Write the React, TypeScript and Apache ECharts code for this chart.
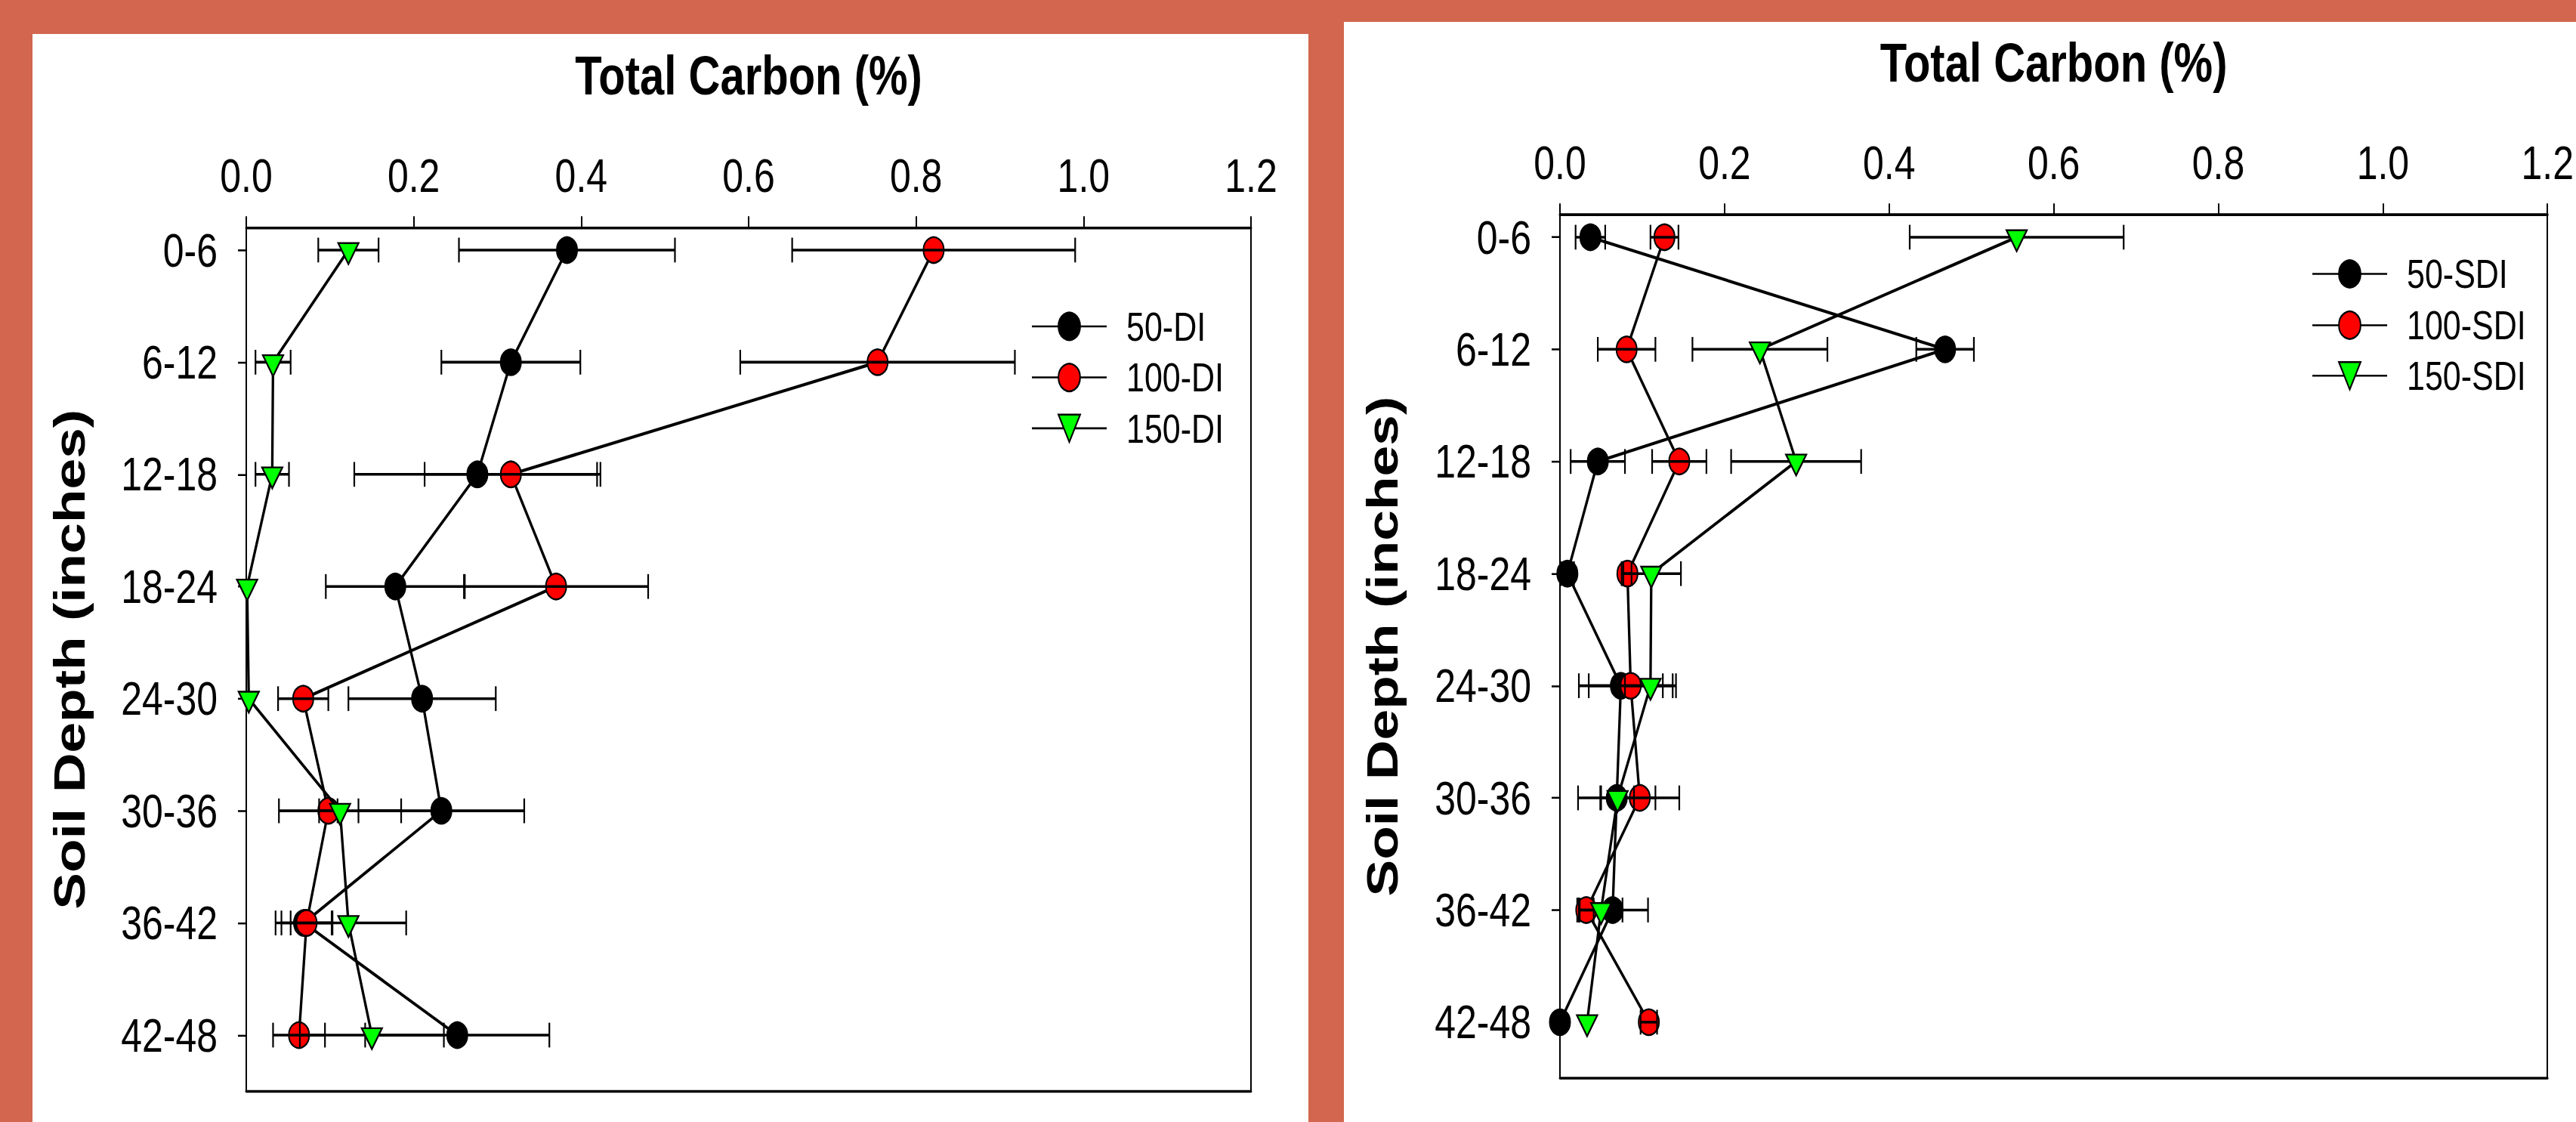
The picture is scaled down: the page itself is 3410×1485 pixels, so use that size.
import React, { useEffect, useRef } from "react";
import * as echarts from "echarts";

// ---------- data ----------
const depthLabels = ["0-6", "6-12", "12-18", "18-24", "24-30", "30-36", "36-42", "42-48"];
const xTickMin = 0;
const xTickMax = 1.2;
const xTickStep = 0.2;

// Left panel (DI)
const di50 = [0.383, 0.316, 0.276, 0.178, 0.21, 0.233, 0.069, 0.252];
const di50Err = [0.129, 0.083, 0.147, 0.083, 0.088, 0.099, 0.034, 0.11];
const di100 = [0.821, 0.754, 0.316, 0.37, 0.068, 0.098, 0.072, 0.063];
const di100Err = [0.169, 0.164, 0.103, 0.11, 0.03, 0.011, 0.03, 0.031];
const di150 = [0.122, 0.032, 0.031, 0.001, 0.003, 0.112, 0.122, 0.15];
const di150Err = [0.036, 0.021, 0.02, 0, 0, 0.073, 0.069, 0.086];

// Right panel (SDI)
const sdi50 = [0.037, 0.468, 0.046, 0.009, 0.074, 0.069, 0.064, 0.0];
const sdi50Err = [0.018, 0.035, 0.033, 0.008, 0.051, 0.047, 0.043, 0];
const sdi100 = [0.127, 0.081, 0.145, 0.082, 0.086, 0.097, 0.032, 0.108];
const sdi100Err = [0.017, 0.035, 0.033, 0.005, 0.051, 0.048, 0.009, 0.01];
const sdi150 = [0.555, 0.243, 0.287, 0.111, 0.11, 0.07, 0.05, 0.033];
const sdi150Err = [0.13, 0.082, 0.079, 0.036, 0.031, 0.02, 0.026, 0];

const leftNames = ["50-DI", "100-DI", "150-DI"];
const rightNames = ["50-SDI", "100-SDI", "150-SDI"];

// ---------- style ----------
const STRETCH = 1.26;
const W = 3410;
const H = 1485 / STRETCH;
const ORANGE = "#D2664E";
const FONT = "'Liberation Sans', Arial, Helvetica, sans-serif";
const Y_MIN = -0.2;
const Y_MAX = 7.5;

function errorSeries(name: string, vals: number[], errs: number[], axisIdx: number, z: number) {
  const data = vals
    .map((v, i) => [v - errs[i], v + errs[i], i, errs[i]])
    .filter((d) => d[3] > 0);
  return {
    name,
    type: "custom",
    xAxisIndex: axisIdx,
    yAxisIndex: axisIdx,
    z,
    silent: true,
    clip: false,
    encode: { x: [0, 1], y: 2 },
    data,
    renderItem: (params: any, api: any) => {
      const y = api.value(2);
      const p1 = api.coord([api.value(0), y]);
      const p2 = api.coord([api.value(1), y]);
      const h = 13;
      return {
        type: "group",
        children: [
          { type: "line", shape: { x1: p1[0], y1: p1[1], x2: p2[0], y2: p2[1] }, style: { stroke: "#000", lineWidth: 2.8 } },
          { type: "line", shape: { x1: p1[0], y1: p1[1] - h, x2: p1[0], y2: p1[1] + h }, style: { stroke: "#000", lineWidth: 2.2 } },
          { type: "line", shape: { x1: p2[0], y1: p2[1] - h, x2: p2[0], y2: p2[1] + h }, style: { stroke: "#000", lineWidth: 2.2 } },
        ],
      };
    },
  };
}

function lineSeries(name: string, vals: number[], axisIdx: number, kind: "circle" | "triangle", color: string, z: number) {
  const tri = kind === "triangle";
  return {
    name,
    type: "line",
    xAxisIndex: axisIdx,
    yAxisIndex: axisIdx,
    z,
    clip: false,
    data: vals.map((v, i) => [v, i]),
    symbol: tri ? "triangle" : "circle",
    symbolSize: tri ? [27, 22] : 27,
    symbolRotate: tri ? 180 : 0,
    symbolOffset: tri ? [0, 3.7] : [0, 0],
    showAllSymbol: true,
    itemStyle: { color, borderColor: "#000", borderWidth: 2 },
    lineStyle: { color: "#000", width: 3.3 },
    emphasis: { disabled: true },
  };
}

function topXAxis(gridIndex: number) {
  return {
    type: "value",
    gridIndex,
    position: "top",
    min: xTickMin,
    max: xTickMax,
    interval: xTickStep,
    name: "Total Carbon (%)",
    nameLocation: "middle",
    nameGap: 131,
    nameTextStyle: { fontSize: 58, fontWeight: "bold", color: "#000", fontFamily: FONT },
    axisLine: { show: true, onZero: false, lineStyle: { color: "#000", width: 2.8 } },
    axisTick: { show: true, inside: false, length: 12, lineStyle: { color: "#000", width: 2 } },
    axisLabel: { show: true, margin: 30, fontSize: 50, color: "#000", fontFamily: FONT, formatter: (v: number) => v.toFixed(1) },
    splitLine: { show: false },
  };
}

function bottomXAxis(gridIndex: number) {
  return {
    type: "value",
    gridIndex,
    position: "bottom",
    min: xTickMin,
    max: xTickMax,
    interval: xTickStep,
    axisLine: { show: true, onZero: false, lineStyle: { color: "#000", width: 2.8 } },
    axisTick: { show: false },
    axisLabel: { show: false },
    splitLine: { show: false },
  };
}

const catIdx = depthLabels.map((_, i) => i);

function leftYAxis(gridIndex: number, nameGap: number) {
  return {
    type: "value",
    gridIndex,
    position: "left",
    inverse: true,
    min: Y_MIN,
    max: Y_MAX,
    name: "Soil Depth (inches)",
    nameLocation: "middle",
    nameGap,
    nameRotate: 90,
    nameTextStyle: { fontSize: 58, fontWeight: "bold", color: "#000", fontFamily: FONT },
    axisLine: { show: true, onZero: false, lineStyle: { color: "#000", width: 2 } },
    axisTick: { show: true, inside: false, length: 11, customValues: catIdx, lineStyle: { color: "#000", width: 2 } },
    axisLabel: {
      show: true,
      margin: 38,
      fontSize: 50,
      color: "#000",
      fontFamily: FONT,
      customValues: catIdx,
      formatter: (v: number) => depthLabels[Math.round(v)] ?? "",
    },
    splitLine: { show: false },
  };
}

function rightYAxis(gridIndex: number) {
  return {
    type: "value",
    gridIndex,
    position: "right",
    inverse: true,
    min: Y_MIN,
    max: Y_MAX,
    axisLine: { show: true, onZero: false, lineStyle: { color: "#000", width: 2 } },
    axisTick: { show: false },
    axisLabel: { show: false },
    splitLine: { show: false },
  };
}

// one legend per entry so each row sits at its exact place
function legendItem(name: string, left: number, centerY: number) {
  return {
    data: [name],
    orient: "vertical",
    left,
    top: centerY - 20,
    padding: 0,
    itemWidth: 99,
    itemHeight: 36,
    selectedMode: false,
    textStyle: { fontSize: 43, color: "#000", fontFamily: FONT, padding: [0, 0, 0, 21] },
  };
}

export default function App() {
  const ref = useRef<HTMLDivElement>(null);
  useEffect(() => {
    document.body.style.margin = "0";
    const chart = echarts.init(ref.current!, null, { renderer: "svg" });
    const leftLegendY = [341.3, 395, 448.4];
    const rightLegendY = [286.2, 340.1, 393.2];
    const option: any = {
      animation: false,
      backgroundColor: "transparent",
      textStyle: { fontFamily: FONT },
      graphic: {
        elements: [
          { type: "rect", z: -10, silent: true, shape: { x: 43, y: 45 / STRETCH, width: 1689, height: 1300 }, style: { fill: "#fff" } },
          { type: "rect", z: -10, silent: true, shape: { x: 1779, y: 29 / STRETCH, width: 1700, height: 1300 }, style: { fill: "#fff" } },
        ],
      },
      grid: [
        { left: 326, width: 1330, top: 239.1, height: 907.1 },
        { left: 2065, width: 1325, top: 225.6, height: 907 },
      ],
      xAxis: [topXAxis(0), bottomXAxis(0), topXAxis(1), bottomXAxis(1)],
      yAxis: [leftYAxis(0, 205), rightYAxis(0), leftYAxis(1, 206), rightYAxis(1)],
      legend: [
        ...leftNames.map((n, i) => legendItem(n, 1365, leftLegendY[i])),
        ...rightNames.map((n, i) => legendItem(n, 3060, rightLegendY[i])),
      ],
      series: [
        lineSeries(leftNames[0], di50, 0, "circle", "#000000", 3),
        errorSeries("e1", di50, di50Err, 0, 4),
        lineSeries(leftNames[1], di100, 0, "circle", "#FF0000", 5),
        errorSeries("e2", di100, di100Err, 0, 6),
        errorSeries("e3", di150, di150Err, 0, 7),
        lineSeries(leftNames[2], di150, 0, "triangle", "#00FF00", 8),

        lineSeries(rightNames[0], sdi50, 2, "circle", "#000000", 3),
        errorSeries("e4", sdi50, sdi50Err, 2, 4),
        lineSeries(rightNames[1], sdi100, 2, "circle", "#FF0000", 5),
        errorSeries("e5", sdi100, sdi100Err, 2, 6),
        errorSeries("e6", sdi150, sdi150Err, 2, 7),
        lineSeries(rightNames[2], sdi150, 2, "triangle", "#00FF00", 8),
      ],
    };
    chart.setOption(option);
    return () => chart.dispose();
  }, []);
  return (
    <div style={{ position: "fixed", left: 0, top: 0, width: W, height: 1485, background: ORANGE, overflow: "hidden" }}>
      <div
        ref={ref}
        style={{ position: "absolute", left: 0, top: 0, width: W, height: H, transform: `scaleY(${STRETCH})`, transformOrigin: "0 0" }}
      />
    </div>
  );
}
